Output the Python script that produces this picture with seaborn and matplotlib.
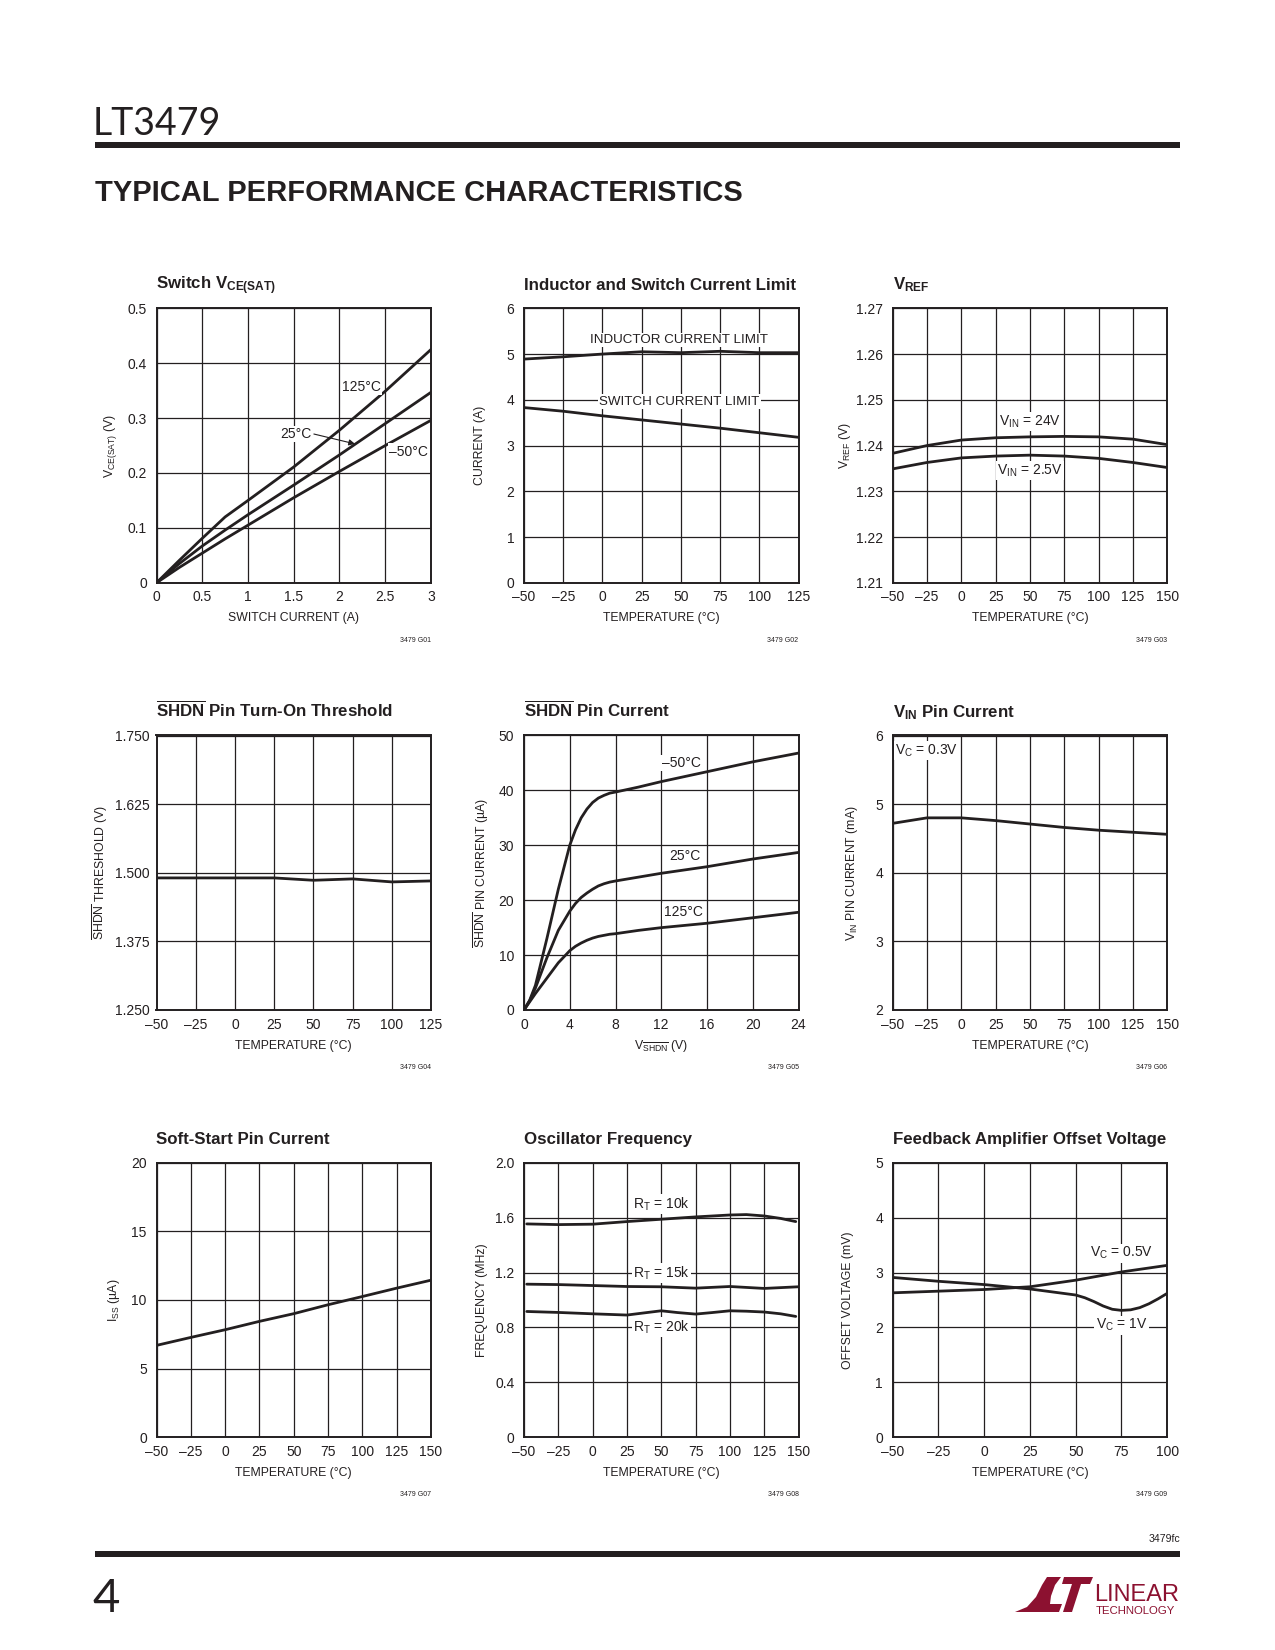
import matplotlib
matplotlib.use('Agg')
import matplotlib.pyplot as plt
from matplotlib import font_manager
from matplotlib.patches import Polygon, Rectangle
import seaborn as sns

# ---------------- data ----------------
# G01  switch Vce(sat) vs switch current
sw_i = [0, 0.25, 0.5, 0.75, 1.0, 1.5, 2.0, 2.5, 3.0]
vce_125 = [0, 0.041, 0.081, 0.12, 0.15, 0.211, 0.278, 0.349, 0.425]
vce_25 = [0, 0.035, 0.067, 0.096, 0.124, 0.178, 0.233, 0.29, 0.347]
vce_m50 = [0, 0.028, 0.054, 0.08, 0.105, 0.155, 0.203, 0.25, 0.296]

# G02  inductor / switch current limit vs temperature
temp_a = [-50, -25, 0, 25, 50, 75, 100, 125]
ind_lim = [4.89, 4.94, 5.0, 5.05, 5.03, 5.06, 5.03, 5.03]
sw_lim = [3.83, 3.75, 3.65, 3.56, 3.47, 3.38, 3.28, 3.18]

# G03  VREF vs temperature
temp_b = [-50, -25, 0, 25, 50, 75, 100, 125, 150]
vref_24 = [1.2383, 1.2400, 1.2412, 1.2417, 1.2419, 1.2420, 1.2419, 1.2414, 1.2402]
vref_2v5 = [1.2349, 1.2363, 1.2373, 1.2377, 1.2379, 1.2377, 1.2372, 1.2363, 1.2352]

# G04  SHDN threshold vs temperature
shdn_th = [1.4906, 1.4906, 1.4906, 1.4906, 1.4863, 1.4888, 1.4833, 1.4851]

# G05  SHDN pin current vs V_SHDN
v_shdn = [0, 0.5, 1, 2, 3, 4, 4.5, 5, 5.5, 6, 6.5, 7, 7.5, 8, 10, 12, 16, 20, 24]
ish_m50 = [0, 1.8, 4.5, 13, 22, 30, 32.8, 35, 36.6, 37.8, 38.6, 39.1, 39.5, 39.7,
           40.6, 41.6, 43.4, 45.2, 46.8]
ish_25 = [0, 1.7, 4.0, 9.5, 14.5, 18, 19.4, 20.5, 21.3, 22, 22.6, 23, 23.3, 23.5,
          24.2, 24.9, 26.1, 27.5, 28.7]
ish_125 = [0, 1.5, 3.0, 5.8, 8.6, 10.8, 11.6, 12.2, 12.7, 13.1, 13.4, 13.6, 13.8, 13.9,
           14.5, 15.0, 15.8, 16.8, 17.8]

# G06  VIN pin current vs temperature
vin_i = [4.72, 4.80, 4.80, 4.76, 4.71, 4.66, 4.62, 4.59, 4.56]

# G07  soft-start pin current vs temperature
iss = [6.69, 7.27, 7.83, 8.44, 9.0, 9.65, 10.25, 10.86, 11.44]

# G08  oscillator frequency vs temperature
t_10k = [-48, -25, 0, 25, 50, 75, 100, 112, 125, 137, 148]
f_10k = [1.554, 1.549, 1.552, 1.571, 1.588, 1.605, 1.619, 1.622, 1.612, 1.594, 1.571]
t_15k = [-48, -25, 0, 25, 50, 75, 100, 125, 150]
f_15k = [1.115, 1.112, 1.105, 1.098, 1.096, 1.086, 1.098, 1.084, 1.096]
t_20k = [-48, -25, 0, 25, 37, 50, 62, 75, 87, 100, 112, 125, 137, 148]
f_20k = [0.916, 0.909, 0.899, 0.89, 0.905, 0.921, 0.908, 0.897, 0.908, 0.921, 0.918,
         0.912, 0.899, 0.88]

# G09  feedback amplifier offset vs temperature
t_0v5 = [-50, -25, 0, 25, 50, 75, 100]
vos_0v5 = [2.63, 2.66, 2.69, 2.74, 2.86, 3.01, 3.13]
t_1v = [-50, -25, 0, 25, 50, 55, 60, 65, 70, 75, 80, 85, 90, 95, 100]
vos_1v = [2.91, 2.84, 2.78, 2.70, 2.59, 2.54, 2.47, 2.39, 2.33, 2.31, 2.32, 2.36, 2.43,
          2.52, 2.62]

# tick values
temp_ticks_125 = [-50, -25, 0, 25, 50, 75, 100, 125]
temp_ticks_150 = [-50, -25, 0, 25, 50, 75, 100, 125, 150]
temp_ticks_100 = [-50, -25, 0, 25, 50, 75, 100]

# ---------------- style ----------------
sns.set_theme(style='white')
names = {f.name for f in font_manager.fontManager.ttflist}
if 'Liberation Sans Narrow' in names:
    FONT, fs = 'Liberation Sans Narrow', 1.0
else:
    FONT, fs = 'Liberation Sans', 0.84
plt.rcParams['font.family'] = [FONT, 'DejaVu Sans']
plt.rcParams['mathtext.fontset'] = 'custom'
plt.rcParams['mathtext.rm'] = FONT
plt.rcParams['mathtext.sf'] = FONT
plt.rcParams['mathtext.it'] = FONT + ':italic'
plt.rcParams['mathtext.bf'] = FONT + ':bold'
plt.rcParams['mathtext.default'] = 'regular'

INK = '#231f20'
LOGO = '#8c1130'
W, H = 1275, 1650
COL_X = [156.5, 524.0, 892.7]
ROW_Y = [308.3, 735.5, 1162.7]
AX_W = AX_H = 274.5
TICK = 10.0

fig = plt.figure(figsize=(W / 100, H / 100), dpi=100)


def fx(x):
    return x / W


def fy(y):
    return 1 - y / H


def new_ax(r, c):
    return fig.add_axes([fx(COL_X[c]), fy(ROW_Y[r] + AX_H), AX_W / W, AX_H / H])


def curve(ax, x, y):
    sns.lineplot(x=x, y=y, ax=ax, color=INK, linewidth=2.0, estimator=None, sort=False)


def lab(ax, x, y, s, size=TICK):
    ax.text(x, y, s, ha='center', va='center', fontsize=size, color=INK, zorder=3,
            bbox=dict(facecolor='white', edgecolor='none', pad=1.0))


def dress(ax, xlim, xt, xtl, ylim, yt, ytl, title, xlabel, ylabel, ydx, code):
    ax.set_xlim(xlim)
    ax.set_ylim(ylim)
    ax.set_xticks(xt)
    ax.set_xticklabels(xtl)
    ax.set_yticks(yt)
    ax.set_yticklabels(ytl)
    ax.grid(True, color=INK, linewidth=0.9)
    ax.set_axisbelow(True)
    ax.tick_params(axis='both', length=0, labelsize=TICK, colors=INK)
    ax.tick_params(axis='x', pad=5.5)
    ax.tick_params(axis='y', pad=7)
    for s in ax.spines.values():
        s.set_visible(True)
        s.set_color(INK)
        s.set_linewidth(1.4)
    ax.text(0, 1 + 18.5 / AX_H, title, transform=ax.transAxes, ha='left', va='baseline',
            fontsize=14.5 * fs, fontweight='bold', color=INK)
    ax.set_xlabel(xlabel, fontsize=10.5 * fs, color=INK, va='center')
    ax.xaxis.set_label_coords(0.5, -35.5 / AX_H)
    ax.set_ylabel(ylabel, fontsize=10.5 * fs, color=INK, va='center')
    ax.yaxis.set_label_coords(-ydx / AX_W, 0.5)
    ax.text(1, -57.5 / AX_H, '3479 ' + code, transform=ax.transAxes, ha='right',
            va='center', fontsize=6 * fs, color=INK)


def tl(vals):
    return [str(v).replace('-', '\u2013') for v in vals]


# G01
ax = new_ax(0, 0)
for yy in (vce_125, vce_25, vce_m50):
    curve(ax, sw_i, yy)
lab(ax, 2.24, 0.357, '125°C')
lab(ax, 1.52, 0.271, '25°C')
lab(ax, 2.755, 0.239, '\u201350°C')
ax.annotate('', xy=(2.17, 0.253), xytext=(1.72, 0.271),
            arrowprops=dict(arrowstyle='-|>', lw=0.8, color=INK, mutation_scale=9,
                            shrinkA=0, shrinkB=0))
dress(ax, (0, 3), [0, 0.5, 1, 1.5, 2, 2.5, 3], ['0', '0.5', '1', '1.5', '2', '2.5', '3'],
      (0, 0.5), [0, 0.1, 0.2, 0.3, 0.4, 0.5], ['0', '0.1', '0.2', '0.3', '0.4', '0.5'],
      r'Switch $\mathbf{V_{CE(SAT)}}$', 'SWITCH CURRENT (A)', r'V$_{\mathrm{CE(SAT)}}$ (V)', 46, 'G01')

# G02
ax = new_ax(0, 1)
curve(ax, temp_a, ind_lim)
curve(ax, temp_a, sw_lim)
lab(ax, 48.7, 5.31, 'INDUCTOR CURRENT LIMIT', 9.6)
lab(ax, 49.2, 3.96, 'SWITCH CURRENT LIMIT', 9.6)
dress(ax, (-50, 125), temp_ticks_125, tl(temp_ticks_125),
      (0, 6), list(range(7)), tl(range(7)),
      'Inductor and Switch Current Limit', 'TEMPERATURE (°C)', 'CURRENT (A)', 44, 'G02')

# G03
ax = new_ax(0, 2)
curve(ax, temp_b, vref_24)
curve(ax, temp_b, vref_2v5)
lab(ax, 50, 1.2452, r'V$_{\mathrm{IN}}$ = 24V')
lab(ax, 50, 1.2345, r'V$_{\mathrm{IN}}$ = 2.5V')
vref_ticks = [1.21, 1.22, 1.23, 1.24, 1.25, 1.26, 1.27]
dress(ax, (-50, 150), temp_ticks_150, tl(temp_ticks_150),
      (1.21, 1.27), vref_ticks, ['%.2f' % v for v in vref_ticks],
      r'$\mathbf{V_{REF}}$', 'TEMPERATURE (°C)', r'V$_{\mathrm{REF}}$ (V)', 48, 'G03')

# G04
ax = new_ax(1, 0)
curve(ax, temp_a, shdn_th)
th_ticks = [1.25, 1.375, 1.5, 1.625, 1.75]
dress(ax, (-50, 125), temp_ticks_125, tl(temp_ticks_125),
      (1.25, 1.75), th_ticks, ['%.3f' % v for v in th_ticks],
      r'$\overline{\mathbf{SHDN}}$ Pin Turn-On Threshold', 'TEMPERATURE (°C)',
      r'$\overline{\mathrm{SHDN}}$ THRESHOLD (V)', 56, 'G04')
ax.tick_params(axis='y', pad=5)

# G05
ax = new_ax(1, 1)
for yy in (ish_m50, ish_25, ish_125):
    curve(ax, v_shdn, yy)
lab(ax, 13.75, 45.0, '\u201350°C')
lab(ax, 14.1, 28.1, '25°C')
lab(ax, 13.9, 17.9, '125°C')
dress(ax, (0, 24), list(range(0, 25, 4)), tl(range(0, 25, 4)),
      (0, 50), list(range(0, 51, 10)), tl(range(0, 51, 10)),
      r'$\overline{\mathbf{SHDN}}$ Pin Current', r'V$_{\overline{\mathrm{SHDN}}}$ (V)',
      r'$\overline{\mathrm{SHDN}}$ PIN CURRENT (µA)', 43, 'G05')

# G06
ax = new_ax(1, 2)
curve(ax, temp_b, vin_i)
lab(ax, -25, 5.78, r'V$_{\mathrm{C}}$ = 0.3V')
dress(ax, (-50, 150), temp_ticks_150, tl(temp_ticks_150),
      (2, 6), [2, 3, 4, 5, 6], tl([2, 3, 4, 5, 6]),
      r'$\mathbf{V_{IN}}$ Pin Current', 'TEMPERATURE (°C)',
      r'V$_{\mathrm{IN}}$ PIN CURRENT (mA)', 41, 'G06')

# G07
ax = new_ax(2, 0)
curve(ax, temp_b, iss)
dress(ax, (-50, 150), temp_ticks_150, tl(temp_ticks_150),
      (0, 20), [0, 5, 10, 15, 20], tl([0, 5, 10, 15, 20]),
      'Soft-Start Pin Current', 'TEMPERATURE (°C)', r'I$_{\mathrm{SS}}$ (µA)', 42, 'G07')

# G08
ax = new_ax(2, 1)
curve(ax, t_10k, f_10k)
curve(ax, t_15k, f_15k)
curve(ax, t_20k, f_20k)
lab(ax, 50, 1.697, r'R$_{\mathrm{T}}$ = 10k')
lab(ax, 50, 1.195, r'R$_{\mathrm{T}}$ = 15k')
lab(ax, 50, 0.802, r'R$_{\mathrm{T}}$ = 20k')
dress(ax, (-50, 150), temp_ticks_150, tl(temp_ticks_150),
      (0, 2), [0, 0.4, 0.8, 1.2, 1.6, 2.0], ['0', '0.4', '0.8', '1.2', '1.6', '2.0'],
      'Oscillator Frequency', 'TEMPERATURE (°C)', 'FREQUENCY (MHz)', 42, 'G08')

# G09
ax = new_ax(2, 2)
curve(ax, t_0v5, vos_0v5)
curve(ax, t_1v, vos_1v)
lab(ax, 75, 3.35, r'V$_{\mathrm{C}}$ = 0.5V')
lab(ax, 75, 2.04, r'V$_{\mathrm{C}}$ = 1V')
dress(ax, (-50, 100), temp_ticks_100, tl(temp_ticks_100),
      (0, 5), list(range(6)), tl(range(6)),
      'Feedback Amplifier Offset Voltage', 'TEMPERATURE (°C)', 'OFFSET VOLTAGE (mV)', 45, 'G09')

# ---------------- page furniture ----------------
fig.text(fx(93), fy(135), 'LT3479', fontsize=27, family=['Lato', 'DejaVu Sans'],
         color=INK, va='baseline')
fig.add_artist(Rectangle((fx(95), fy(147.5)), (1180 - 95) / W, 5.5 / H,
                         transform=fig.transFigure, color=INK, lw=0))
fig.text(fx(95), fy(201), 'TYPICAL PERFORMANCE CHARACTERISTICS', fontsize=25 * fs,
         fontweight='bold', color=INK, va='baseline')

fig.add_artist(Rectangle((fx(95), fy(1556.5)), (1180 - 95) / W, 5.5 / H,
                         transform=fig.transFigure, color=INK, lw=0))
fig.text(fx(1180), fy(1542), '3479fc', fontsize=9 * fs, color=INK, ha='right', va='baseline')
fig.text(fx(92), fy(1612), '4', fontsize=34, family=['Lato', 'DejaVu Sans'],
         color=INK, va='baseline')

# Linear Technology logo
logo_l = [(1015, 1612), (1027, 1607), (1036, 1597), (1042, 1585), (1047, 1577), (1061, 1577),
          (1055, 1585), (1051, 1596), (1050, 1604), (1062, 1604), (1059, 1612)]
logo_t = [(1064, 1577), (1093, 1577), (1090, 1584), (1081, 1584), (1072, 1612), (1063, 1612),
          (1072, 1584), (1062, 1584)]
for pts in (logo_l, logo_t):
    fig.add_artist(Polygon([(fx(a), fy(b)) for a, b in pts], closed=True,
                           transform=fig.transFigure, color=LOGO, lw=0))
fig.text(fx(1094), fy(1601), 'LINEAR', fontsize=17, color=LOGO, ha='left', va='baseline')
fig.text(fx(1096), fy(1614), 'TECHNOLOGY', fontsize=8.2, color=LOGO, ha='left', va='baseline')

fig.savefig('out.png', dpi=100)
